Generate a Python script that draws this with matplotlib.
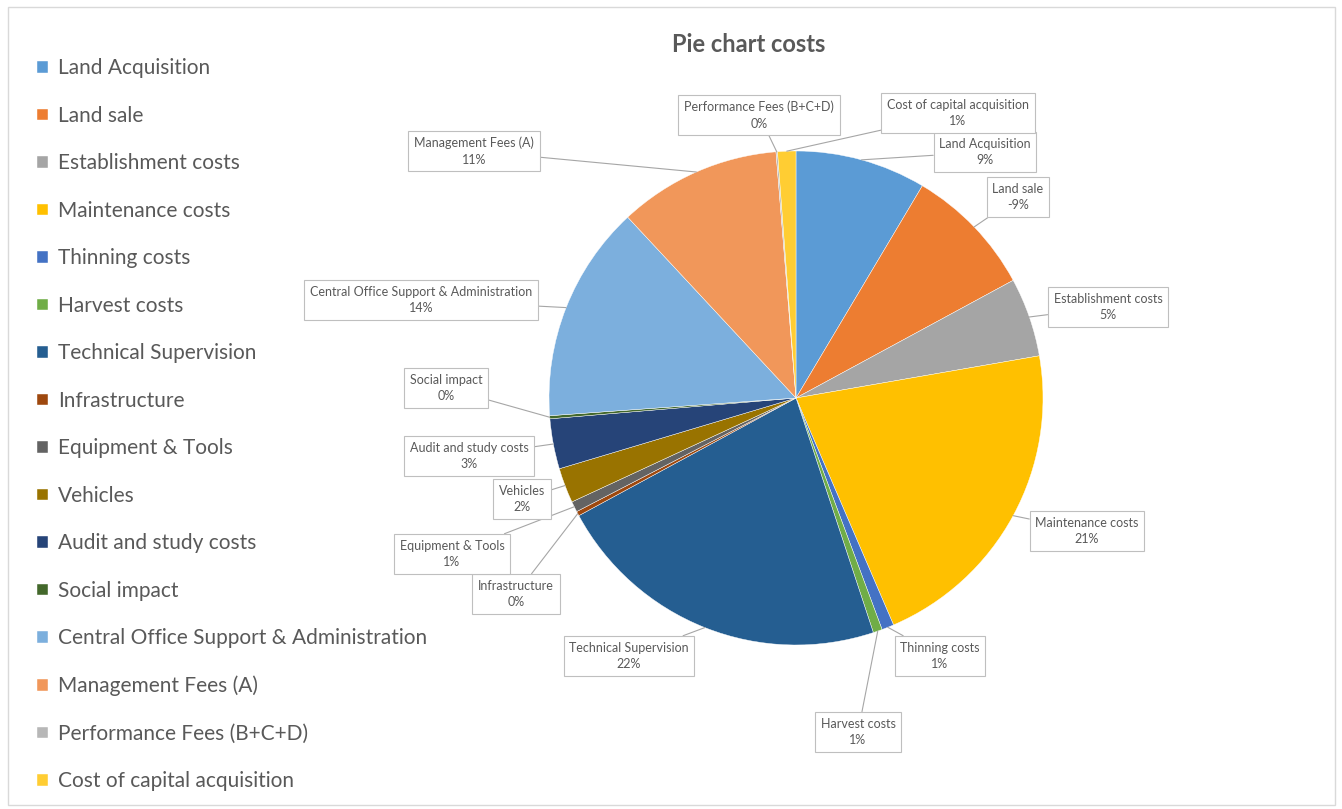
import numpy as np
import matplotlib
matplotlib.use("Agg")
import matplotlib.pyplot as plt
from matplotlib.patches import Rectangle

# values (share of total, Land sale is negative)
categories = ["Land Acquisition", "Land sale", "Establishment costs", "Maintenance costs",
              "Thinning costs", "Harvest costs", "Technical Supervision", "Infrastructure",
              "Equipment & Tools", "Vehicles", "Audit and study costs", "Social impact",
              "Central Office Support & Administration", "Management Fees (A)",
              "Performance Fees (B+C+D)", "Cost of capital acquisition"]
values = [8.6, -8.6, 5.2, 21.4, 0.8, 0.6, 22.3, 0.3, 0.7, 2.3, 3.3, 0.2, 14.3, 10.7, 0.1, 1.2]
colors = ["#5B9BD5", "#ED7D31", "#A5A5A5", "#FFC000", "#4472C4", "#70AD47",
          "#255E91", "#9E480E", "#636363", "#997300", "#264478", "#43682B",
          "#7CAFDD", "#F1975A", "#B7B7B7", "#FFCD33"]

# callout box centres, image pixels (x, y from top)
label_pos = [(985, 152), (1018, 197), (1108, 307), (1087, 531), (940, 656), (858, 732),
             (629, 656), (516, 594), (452, 554), (522, 499), (469, 456), (446, 388),
             (421, 300), (474, 151), (759, 115), (958, 113)]

W, H = 1342, 809
plt.rcParams['font.family'] = ['Lato', 'DejaVu Sans']
fig = plt.figure(figsize=(W / 100, H / 100), dpi=100)
fig.patches.append(Rectangle((8 / W, 4 / H), 1327 / W, 798 / H, transform=fig.transFigure,
                             fill=False, edgecolor="#D9D9D9", linewidth=1))

cx, cy, r = 796, 398, 247
ax = fig.add_axes([(cx - r) / W, (H - cy - r) / H, 2 * r / W, 2 * r / H])
sizes = np.abs(values)
wedges, _ = ax.pie(sizes, colors=colors, startangle=90, counterclock=False,
                   wedgeprops=dict(linewidth=0.3, edgecolor="white"))
ax.set_xlim(-1, 1)
ax.set_ylim(-1, 1)
ax.set_aspect("equal")
ax.axis("off")

total = sizes.sum()
for w, name, v, (lx, ly) in zip(wedges, categories, values, label_pos):
    mid = np.deg2rad((w.theta1 + w.theta2) / 2)
    tip = (np.cos(mid), np.sin(mid))
    ax.annotate(f"{name}\n{v / total * 100:.0f}%", xy=tip, xycoords="data",
                xytext=(lx, H - ly), textcoords="figure pixels",
                ha="center", va="center", fontsize=9, color="#595959",
                linespacing=1.45,
                bbox=dict(boxstyle="square,pad=0.45", fc="white", ec="#BFBFBF", lw=0.8),
                arrowprops=dict(arrowstyle="-", color="#A6A6A6", lw=0.8,
                                shrinkA=0, shrinkB=0))

fig.text(749 / W, 1 - 45 / H, "Pie chart costs", ha="center", va="center",
         fontsize=17, fontweight="bold", color="#595959")

fig.legend(wedges, categories, loc="upper left", bbox_to_anchor=(29 / W, 1 - 50 / H),
           frameon=False, fontsize=15, labelcolor="#595959", handlelength=0.5,
           handleheight=0.5, handletextpad=0.5, labelspacing=1.32, borderaxespad=0)

fig.savefig("out.png", dpi=100, facecolor="white")
